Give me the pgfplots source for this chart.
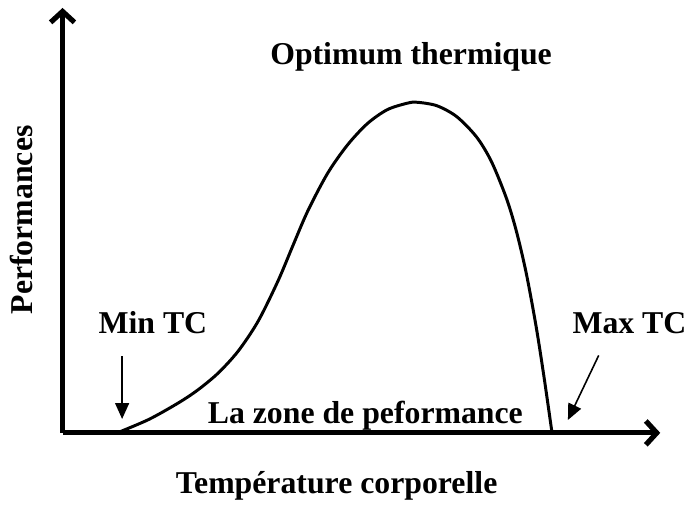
\documentclass[border=0pt]{standalone}
\usepackage{pgfplots}
\pgfplotsset{compat=1.18}
\usepackage{fontspec}
\setmainfont{Liberation Serif}
\usetikzlibrary{arrows.meta}
\begin{document}
\begin{tikzpicture}
\begin{axis}[
  x=0.5pt, y=0.5pt,
  xmin=63, xmax=665, ymin=0, ymax=428,
  axis lines=left,
  ticks=none,
  clip=false,
  axis line style={line width=2.6pt, -{Straight Barb[length=5.5pt,width=12pt,line width=2.6pt]}},
  font=\fontsize{16}{19}\selectfont\bfseries,
]
\path (axis cs:0,-77) rectangle (axis cs:693,436);
\addplot[black, line width=1.5pt, smooth] coordinates {
(118,0) (150,13.6) (180,30.4) (200,43.8) (220,60.5) (240,82.5) (260,112.5)
(280,153) (295,188.6) (310,223.5) (330,261.5) (350,290) (370,311.5)
(390,325.5) (410,332) (420,333) (440,329.5) (460,318.5) (480,298)
(495,273.2) (510,236.5) (520,203.5) (530,161) (540,107) (548,55.8) (556,0)
};
\node[anchor=base] at (axis cs:414,371) {Optimum thermique};
\node[anchor=base, rotate=90] at (axis cs:33,214.5) {Performances};
\node[anchor=base] at (axis cs:154,100) {Min TC};
\node[anchor=base] at (axis cs:634,100) {Max TC};
\node[anchor=base] at (axis cs:368,9) {La zone de peformance};
\node[anchor=base] at (axis cs:339,-61) {Température corporelle};
\draw[line width=0.8pt, -{Triangle[length=8pt,width=7pt]}] (axis cs:123,77) -- (axis cs:123,14);
\draw[line width=0.8pt, -{Triangle[length=8pt,width=7pt]}] (axis cs:603,78) -- (axis cs:572,13);
\end{axis}
\end{tikzpicture}
\end{document}
